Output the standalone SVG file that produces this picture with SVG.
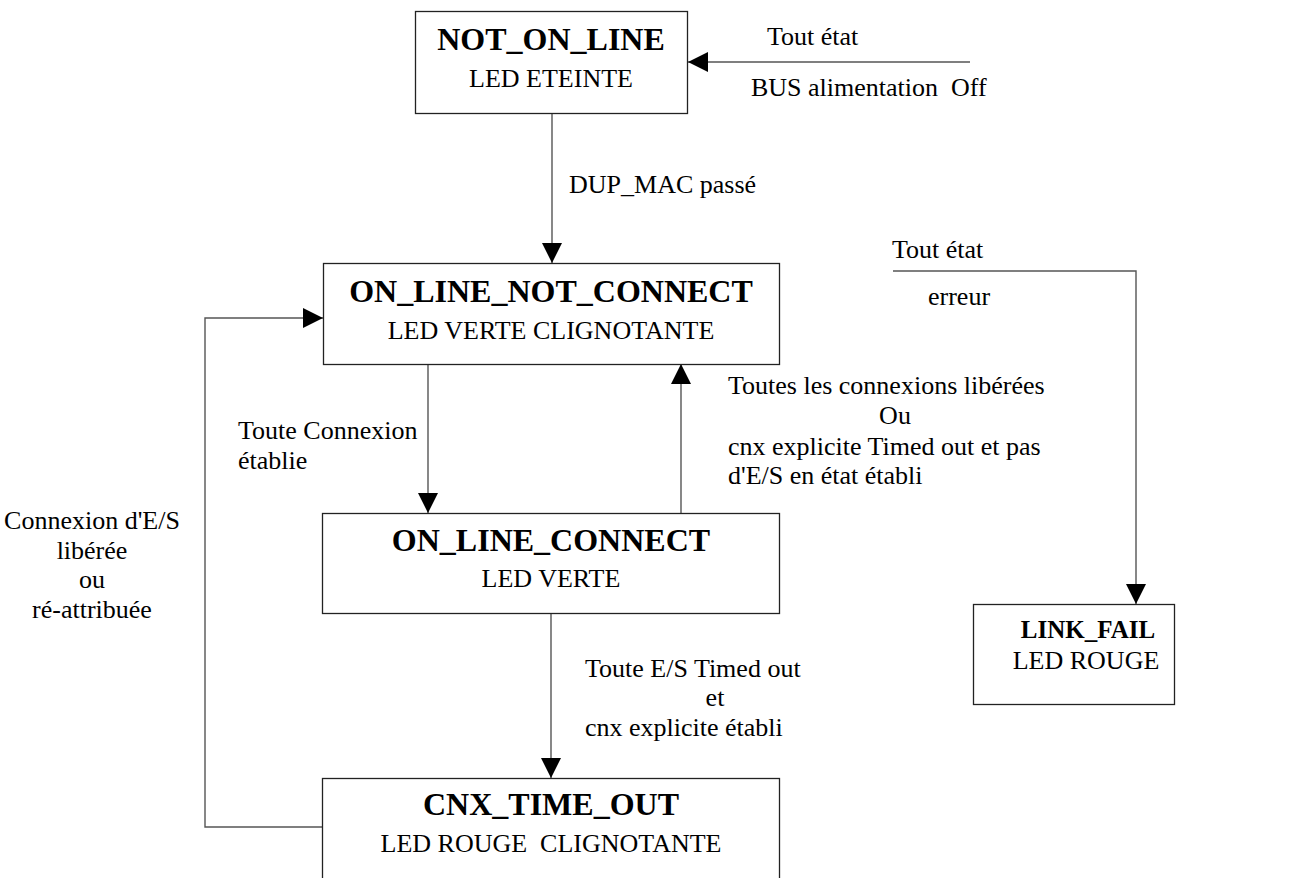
<svg xmlns="http://www.w3.org/2000/svg" width="1300" height="878" viewBox="0 0 1300 878">
<style>
.box{fill:#fff;stroke:#222;stroke-width:1.3}
.t{font-family:"Liberation Serif","Times New Roman",serif;font-weight:bold;font-size:32px;fill:#000;text-anchor:middle}
.ts{font-family:"Liberation Serif","Times New Roman",serif;font-weight:bold;font-size:25px;fill:#000;text-anchor:middle}
.l{font-family:"Liberation Serif","Times New Roman",serif;font-size:26px;fill:#000}
.c{text-anchor:middle}
.con{fill:none;stroke:#555;stroke-width:1.4}
</style>
<defs>
<marker id="ah" markerUnits="userSpaceOnUse" markerWidth="20" markerHeight="20" refX="20" refY="10" orient="auto">
<path d="M0,0 L20,10 L0,20 z" fill="#000"/>
</marker>
</defs>
<rect width="1300" height="878" fill="#fff"/>
<g id="connectors">
<line class="con" x1="970" y1="62" x2="688" y2="62" marker-end="url(#ah)"/>
<line class="con" x1="552" y1="113" x2="552" y2="263" marker-end="url(#ah)"/>
<line class="con" x1="428" y1="364" x2="428" y2="513" marker-end="url(#ah)"/>
<line class="con" x1="681" y1="513" x2="681" y2="364" marker-end="url(#ah)"/>
<line class="con" x1="551" y1="614" x2="551" y2="778" marker-end="url(#ah)"/>
<polyline class="con" points="322,827 205,827 205,318 323,318" marker-end="url(#ah)"/>
<polyline class="con" points="893,271 1136,271 1136,604" marker-end="url(#ah)"/>
</g>
<g id="labels">
<text class="l" x="767" y="45">Tout état</text>
<text class="l" x="751" y="96" xml:space="preserve">BUS alimentation  Off</text>
<text class="l" x="569" y="193">DUP_MAC passé</text>
<text class="l" x="238" y="439">Toute Connexion</text>
<text class="l" x="238" y="469">établie</text>
<text class="l c" x="92" y="529">Connexion d'E/S</text>
<text class="l c" x="92" y="559">libérée</text>
<text class="l c" x="92" y="588">ou</text>
<text class="l c" x="92" y="618">ré-attribuée</text>
<text class="l" x="728" y="394">Toutes les connexions libérées</text>
<text class="l c" x="895" y="424">Ou</text>
<text class="l" x="728" y="455">cnx explicite Timed out et pas</text>
<text class="l" x="728" y="484">d'E/S en état établi</text>
<text class="l" x="585" y="677">Toute E/S Timed out</text>
<text class="l c" x="715" y="706">et</text>
<text class="l" x="585" y="736">cnx explicite établi</text>
<text class="l" x="892" y="258">Tout état</text>
<text class="l" x="928" y="305">erreur</text>
</g>
<g id="NOT_ON_LINE">
<rect class="box" x="415.5" y="11.5" width="272" height="102"/>
<text class="t" x="551" y="50">NOT_ON_LINE</text>
<text class="l c" x="551" y="87">LED ETEINTE</text>
</g>
<g id="ON_LINE_NOT_CONNECT">
<rect class="box" x="323.5" y="263.5" width="456" height="101"/>
<text class="t" x="551" y="302">ON_LINE_NOT_CONNECT</text>
<text class="l c" x="551" y="339">LED VERTE CLIGNOTANTE</text>
</g>
<g id="ON_LINE_CONNECT">
<rect class="box" x="322.5" y="513.5" width="457" height="100"/>
<text class="t" x="551" y="551">ON_LINE_CONNECT</text>
<text class="l c" x="551" y="587">LED VERTE</text>
</g>
<g id="CNX_TIME_OUT">
<rect class="box" x="322.5" y="778.5" width="457" height="101"/>
<text class="t" x="551" y="815">CNX_TIME_OUT</text>
<text class="l c" x="551" y="852" xml:space="preserve">LED ROUGE  CLIGNOTANTE</text>
</g>
<g id="LINK_FAIL">
<rect class="box" x="973.5" y="604.5" width="201" height="100"/>
<text class="ts" x="1088" y="638">LINK_FAIL</text>
<text class="l c" x="1086" y="669">LED ROUGE</text>
</g>
</svg>
